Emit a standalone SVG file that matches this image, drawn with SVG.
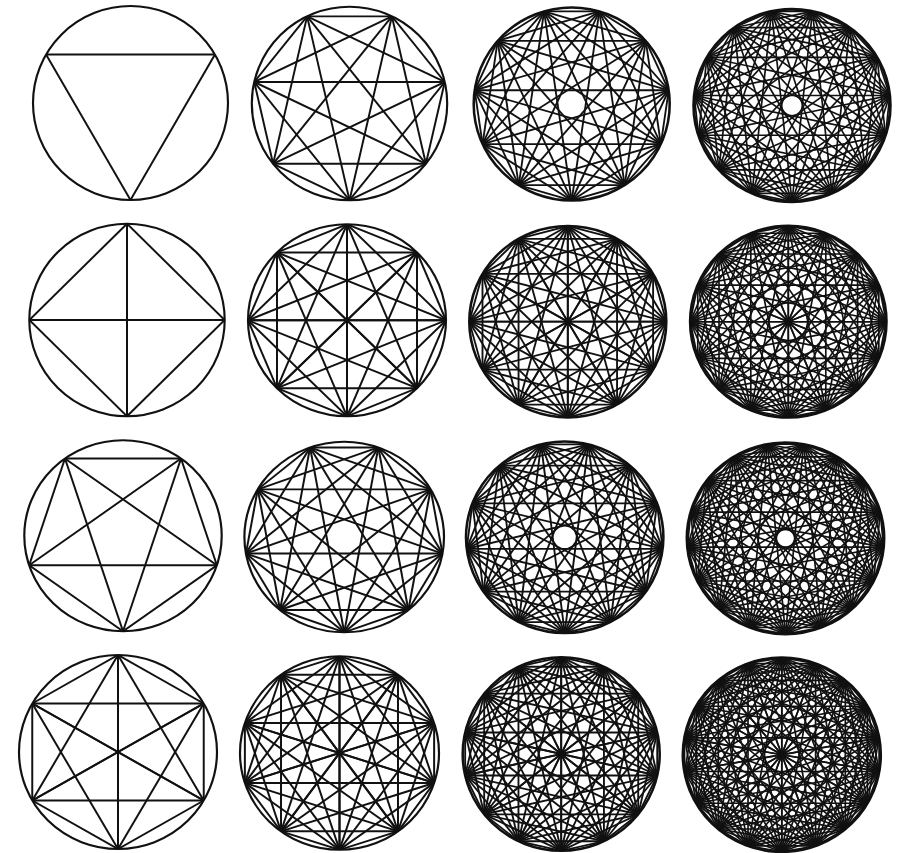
<svg xmlns="http://www.w3.org/2000/svg" xmlns:xlink="http://www.w3.org/1999/xlink" width="897" height="853" viewBox="0 0 897 853">
<style>
.c{fill:none;stroke:#111;stroke-width:2.2}
.g{stroke:#111;fill:none}
</style>
<defs>
<clipPath id="cc"><circle cx="0" cy="0" r="100"/></clipPath>
<line id="ray" x1="0" y1="100" x2="210" y2="100"/>
<g id="f3"><use href="#ray" transform="rotate(-60 0 100)"/></g>
<g id="f4"><use href="#ray" transform="rotate(-45 0 100)"/><use href="#ray" transform="rotate(-90 0 100)"/></g>
<g id="f5"><use href="#ray" transform="rotate(-36 0 100)"/><use href="#ray" transform="rotate(-72 0 100)"/></g>
<g id="f6"><use href="#ray" transform="rotate(-30 0 100)"/><use href="#ray" transform="rotate(-60 0 100)"/><use href="#ray" transform="rotate(-90 0 100)"/></g>
<g id="f7"><use href="#ray" transform="rotate(-25.714 0 100)"/><use href="#ray" transform="rotate(-51.429 0 100)"/><use href="#ray" transform="rotate(-77.143 0 100)"/></g>
<g id="f8"><use href="#ray" transform="rotate(-22.5 0 100)"/><use href="#ray" transform="rotate(-45 0 100)"/><use href="#ray" transform="rotate(-67.5 0 100)"/><use href="#ray" transform="rotate(-90 0 100)"/></g>
<g id="f9"><use href="#ray" transform="rotate(-20 0 100)"/><use href="#ray" transform="rotate(-40 0 100)"/><use href="#ray" transform="rotate(-60 0 100)"/><use href="#ray" transform="rotate(-80 0 100)"/></g>
<g id="f10"><use href="#ray" transform="rotate(-18 0 100)"/><use href="#ray" transform="rotate(-36 0 100)"/><use href="#ray" transform="rotate(-54 0 100)"/><use href="#ray" transform="rotate(-72 0 100)"/><use href="#ray" transform="rotate(-90 0 100)"/></g>
<g id="f11"><use href="#ray" transform="rotate(-16.364 0 100)"/><use href="#ray" transform="rotate(-32.727 0 100)"/><use href="#ray" transform="rotate(-49.091 0 100)"/><use href="#ray" transform="rotate(-65.455 0 100)"/><use href="#ray" transform="rotate(-81.818 0 100)"/></g>
<g id="f12"><use href="#ray" transform="rotate(-15 0 100)"/><use href="#ray" transform="rotate(-30 0 100)"/><use href="#ray" transform="rotate(-45 0 100)"/><use href="#ray" transform="rotate(-60 0 100)"/><use href="#ray" transform="rotate(-75 0 100)"/><use href="#ray" transform="rotate(-90 0 100)"/></g>
<g id="f13"><use href="#ray" transform="rotate(-13.846 0 100)"/><use href="#ray" transform="rotate(-27.692 0 100)"/><use href="#ray" transform="rotate(-41.538 0 100)"/><use href="#ray" transform="rotate(-55.385 0 100)"/><use href="#ray" transform="rotate(-69.231 0 100)"/><use href="#ray" transform="rotate(-83.077 0 100)"/></g>
<g id="f14"><use href="#ray" transform="rotate(-12.857 0 100)"/><use href="#ray" transform="rotate(-25.714 0 100)"/><use href="#ray" transform="rotate(-38.571 0 100)"/><use href="#ray" transform="rotate(-51.429 0 100)"/><use href="#ray" transform="rotate(-64.286 0 100)"/><use href="#ray" transform="rotate(-77.143 0 100)"/><use href="#ray" transform="rotate(-90 0 100)"/></g>
<g id="f15"><use href="#ray" transform="rotate(-12 0 100)"/><use href="#ray" transform="rotate(-24 0 100)"/><use href="#ray" transform="rotate(-36 0 100)"/><use href="#ray" transform="rotate(-48 0 100)"/><use href="#ray" transform="rotate(-60 0 100)"/><use href="#ray" transform="rotate(-72 0 100)"/><use href="#ray" transform="rotate(-84 0 100)"/></g>
<g id="f16"><use href="#ray" transform="rotate(-11.25 0 100)"/><use href="#ray" transform="rotate(-22.5 0 100)"/><use href="#ray" transform="rotate(-33.75 0 100)"/><use href="#ray" transform="rotate(-45 0 100)"/><use href="#ray" transform="rotate(-56.25 0 100)"/><use href="#ray" transform="rotate(-67.5 0 100)"/><use href="#ray" transform="rotate(-78.75 0 100)"/><use href="#ray" transform="rotate(-90 0 100)"/></g>
<g id="f17"><use href="#ray" transform="rotate(-10.588 0 100)"/><use href="#ray" transform="rotate(-21.176 0 100)"/><use href="#ray" transform="rotate(-31.765 0 100)"/><use href="#ray" transform="rotate(-42.353 0 100)"/><use href="#ray" transform="rotate(-52.941 0 100)"/><use href="#ray" transform="rotate(-63.529 0 100)"/><use href="#ray" transform="rotate(-74.118 0 100)"/><use href="#ray" transform="rotate(-84.706 0 100)"/></g>
<g id="f18"><use href="#ray" transform="rotate(-10 0 100)"/><use href="#ray" transform="rotate(-20 0 100)"/><use href="#ray" transform="rotate(-30 0 100)"/><use href="#ray" transform="rotate(-40 0 100)"/><use href="#ray" transform="rotate(-50 0 100)"/><use href="#ray" transform="rotate(-60 0 100)"/><use href="#ray" transform="rotate(-70 0 100)"/><use href="#ray" transform="rotate(-80 0 100)"/><use href="#ray" transform="rotate(-90 0 100)"/></g>
</defs>
<rect width="897" height="853" fill="#fff"/>

<g id="k3" transform="translate(130.5 103) scale(0.975 0.97)">
<circle class="c" r="100"/>
<g class="g" stroke-width="2" clip-path="url(#cc)"><use href="#f3"/><use href="#f3" transform="rotate(120)"/><use href="#f3" transform="rotate(240)"/></g>
</g>

<g id="k7" transform="translate(349.5 103.5) scale(0.977 0.967)">
<circle class="c" r="100"/>
<g class="g" stroke-width="2" clip-path="url(#cc)"><use href="#f7"/><use href="#f7" transform="rotate(51.429)"/><use href="#f7" transform="rotate(102.857)"/><use href="#f7" transform="rotate(154.286)"/><use href="#f7" transform="rotate(205.714)"/><use href="#f7" transform="rotate(257.143)"/><use href="#f7" transform="rotate(308.571)"/></g>
</g>

<g id="k11" transform="translate(571.7 104) scale(0.98 0.965)">
<circle class="c" r="100" style="stroke-width:2.6"/>
<g class="g" stroke-width="1.9" clip-path="url(#cc)"><use href="#f11"/><use href="#f11" transform="rotate(32.727)"/><use href="#f11" transform="rotate(65.455)"/><use href="#f11" transform="rotate(98.182)"/><use href="#f11" transform="rotate(130.909)"/><use href="#f11" transform="rotate(163.636)"/><use href="#f11" transform="rotate(196.364)"/><use href="#f11" transform="rotate(229.091)"/><use href="#f11" transform="rotate(261.818)"/><use href="#f11" transform="rotate(294.545)"/><use href="#f11" transform="rotate(327.273)"/></g>
</g>

<g id="k15" transform="translate(792 105.5) scale(0.983 0.962)">
<circle class="c" r="100" style="stroke-width:3"/>
<g class="g" stroke-width="1.7" clip-path="url(#cc)"><use href="#f15"/><use href="#f15" transform="rotate(24)"/><use href="#f15" transform="rotate(48)"/><use href="#f15" transform="rotate(72)"/><use href="#f15" transform="rotate(96)"/><use href="#f15" transform="rotate(120)"/><use href="#f15" transform="rotate(144)"/><use href="#f15" transform="rotate(168)"/><use href="#f15" transform="rotate(192)"/><use href="#f15" transform="rotate(216)"/><use href="#f15" transform="rotate(240)"/><use href="#f15" transform="rotate(264)"/><use href="#f15" transform="rotate(288)"/><use href="#f15" transform="rotate(312)"/><use href="#f15" transform="rotate(336)"/></g>
</g>

<g id="k4" transform="translate(127 320) scale(0.977 0.963)">
<circle class="c" r="100"/>
<g class="g" stroke-width="2" clip-path="url(#cc)"><use href="#f4"/><use href="#f4" transform="rotate(90)"/><use href="#f4" transform="rotate(180)"/><use href="#f4" transform="rotate(270)"/></g>
</g>

<g id="k8" transform="translate(347 320.3) scale(0.99 0.96)">
<circle class="c" r="100"/>
<g class="g" stroke-width="2" clip-path="url(#cc)"><use href="#f8"/><use href="#f8" transform="rotate(45)"/><use href="#f8" transform="rotate(90)"/><use href="#f8" transform="rotate(135)"/><use href="#f8" transform="rotate(180)"/><use href="#f8" transform="rotate(225)"/><use href="#f8" transform="rotate(270)"/><use href="#f8" transform="rotate(315)"/></g>
</g>

<g id="k12" transform="translate(567.8 321.7) scale(0.985 0.957)">
<circle class="c" r="100" style="stroke-width:2.6"/>
<g class="g" stroke-width="1.9" clip-path="url(#cc)"><use href="#f12"/><use href="#f12" transform="rotate(30)"/><use href="#f12" transform="rotate(60)"/><use href="#f12" transform="rotate(90)"/><use href="#f12" transform="rotate(120)"/><use href="#f12" transform="rotate(150)"/><use href="#f12" transform="rotate(180)"/><use href="#f12" transform="rotate(210)"/><use href="#f12" transform="rotate(240)"/><use href="#f12" transform="rotate(270)"/><use href="#f12" transform="rotate(300)"/><use href="#f12" transform="rotate(330)"/></g>
</g>

<g id="k16" transform="translate(788.3 321.7) scale(0.98 0.957)">
<circle class="c" r="100" style="stroke-width:3"/>
<g class="g" stroke-width="1.7" clip-path="url(#cc)"><use href="#f16"/><use href="#f16" transform="rotate(22.5)"/><use href="#f16" transform="rotate(45)"/><use href="#f16" transform="rotate(67.5)"/><use href="#f16" transform="rotate(90)"/><use href="#f16" transform="rotate(112.5)"/><use href="#f16" transform="rotate(135)"/><use href="#f16" transform="rotate(157.5)"/><use href="#f16" transform="rotate(180)"/><use href="#f16" transform="rotate(202.5)"/><use href="#f16" transform="rotate(225)"/><use href="#f16" transform="rotate(247.5)"/><use href="#f16" transform="rotate(270)"/><use href="#f16" transform="rotate(292.5)"/><use href="#f16" transform="rotate(315)"/><use href="#f16" transform="rotate(337.5)"/></g>
</g>

<g id="k5" transform="translate(123 535.8) scale(0.987 0.955)">
<circle class="c" r="100"/>
<g class="g" stroke-width="2" clip-path="url(#cc)"><use href="#f5"/><use href="#f5" transform="rotate(72)"/><use href="#f5" transform="rotate(144)"/><use href="#f5" transform="rotate(216)"/><use href="#f5" transform="rotate(288)"/></g>
</g>

<g id="k9" transform="translate(344.2 537) scale(0.998 0.953)">
<circle class="c" r="100"/>
<g class="g" stroke-width="2" clip-path="url(#cc)"><use href="#f9"/><use href="#f9" transform="rotate(40)"/><use href="#f9" transform="rotate(80)"/><use href="#f9" transform="rotate(120)"/><use href="#f9" transform="rotate(160)"/><use href="#f9" transform="rotate(200)"/><use href="#f9" transform="rotate(240)"/><use href="#f9" transform="rotate(280)"/><use href="#f9" transform="rotate(320)"/></g>
</g>

<g id="k13" transform="translate(564.7 537.3) scale(0.987 0.957)">
<circle class="c" r="100" style="stroke-width:2.6"/>
<g class="g" stroke-width="1.9" clip-path="url(#cc)"><use href="#f13"/><use href="#f13" transform="rotate(27.692)"/><use href="#f13" transform="rotate(55.385)"/><use href="#f13" transform="rotate(83.077)"/><use href="#f13" transform="rotate(110.769)"/><use href="#f13" transform="rotate(138.462)"/><use href="#f13" transform="rotate(166.154)"/><use href="#f13" transform="rotate(193.846)"/><use href="#f13" transform="rotate(221.538)"/><use href="#f13" transform="rotate(249.231)"/><use href="#f13" transform="rotate(276.923)"/><use href="#f13" transform="rotate(304.615)"/><use href="#f13" transform="rotate(332.308)"/></g>
</g>

<g id="k17" transform="translate(785.5 538.3) scale(0.985 0.957)">
<circle class="c" r="100" style="stroke-width:3"/>
<g class="g" stroke-width="1.7" clip-path="url(#cc)"><use href="#f17"/><use href="#f17" transform="rotate(21.176)"/><use href="#f17" transform="rotate(42.353)"/><use href="#f17" transform="rotate(63.529)"/><use href="#f17" transform="rotate(84.706)"/><use href="#f17" transform="rotate(105.882)"/><use href="#f17" transform="rotate(127.059)"/><use href="#f17" transform="rotate(148.235)"/><use href="#f17" transform="rotate(169.412)"/><use href="#f17" transform="rotate(190.588)"/><use href="#f17" transform="rotate(211.765)"/><use href="#f17" transform="rotate(232.941)"/><use href="#f17" transform="rotate(254.118)"/><use href="#f17" transform="rotate(275.294)"/><use href="#f17" transform="rotate(296.471)"/><use href="#f17" transform="rotate(317.647)"/><use href="#f17" transform="rotate(338.824)"/></g>
</g>

<g id="k6" transform="translate(118 752) scale(0.99 0.97)">
<circle class="c" r="100"/>
<g class="g" stroke-width="2" clip-path="url(#cc)"><use href="#f6"/><use href="#f6" transform="rotate(60)"/><use href="#f6" transform="rotate(120)"/><use href="#f6" transform="rotate(180)"/><use href="#f6" transform="rotate(240)"/><use href="#f6" transform="rotate(300)"/></g>
</g>

<g id="k10" transform="translate(339.5 753) scale(0.995 0.968)">
<circle class="c" r="100"/>
<g class="g" stroke-width="2" clip-path="url(#cc)"><use href="#f10"/><use href="#f10" transform="rotate(36)"/><use href="#f10" transform="rotate(72)"/><use href="#f10" transform="rotate(108)"/><use href="#f10" transform="rotate(144)"/><use href="#f10" transform="rotate(180)"/><use href="#f10" transform="rotate(216)"/><use href="#f10" transform="rotate(252)"/><use href="#f10" transform="rotate(288)"/><use href="#f10" transform="rotate(324)"/></g>
</g>

<g id="k14" transform="translate(561.2 754) scale(0.985 0.968)">
<circle class="c" r="100" style="stroke-width:2.6"/>
<g class="g" stroke-width="1.9" clip-path="url(#cc)"><use href="#f14"/><use href="#f14" transform="rotate(25.714)"/><use href="#f14" transform="rotate(51.429)"/><use href="#f14" transform="rotate(77.143)"/><use href="#f14" transform="rotate(102.857)"/><use href="#f14" transform="rotate(128.571)"/><use href="#f14" transform="rotate(154.286)"/><use href="#f14" transform="rotate(180)"/><use href="#f14" transform="rotate(205.714)"/><use href="#f14" transform="rotate(231.429)"/><use href="#f14" transform="rotate(257.143)"/><use href="#f14" transform="rotate(282.857)"/><use href="#f14" transform="rotate(308.571)"/><use href="#f14" transform="rotate(334.286)"/></g>
</g>

<g id="k18" transform="translate(781.8 754.7) scale(0.988 0.97)">
<circle class="c" r="100" style="stroke-width:3"/>
<g class="g" stroke-width="1.7" clip-path="url(#cc)"><use href="#f18"/><use href="#f18" transform="rotate(20)"/><use href="#f18" transform="rotate(40)"/><use href="#f18" transform="rotate(60)"/><use href="#f18" transform="rotate(80)"/><use href="#f18" transform="rotate(100)"/><use href="#f18" transform="rotate(120)"/><use href="#f18" transform="rotate(140)"/><use href="#f18" transform="rotate(160)"/><use href="#f18" transform="rotate(180)"/><use href="#f18" transform="rotate(200)"/><use href="#f18" transform="rotate(220)"/><use href="#f18" transform="rotate(240)"/><use href="#f18" transform="rotate(260)"/><use href="#f18" transform="rotate(280)"/><use href="#f18" transform="rotate(300)"/><use href="#f18" transform="rotate(320)"/><use href="#f18" transform="rotate(340)"/></g>
</g>
</svg>
